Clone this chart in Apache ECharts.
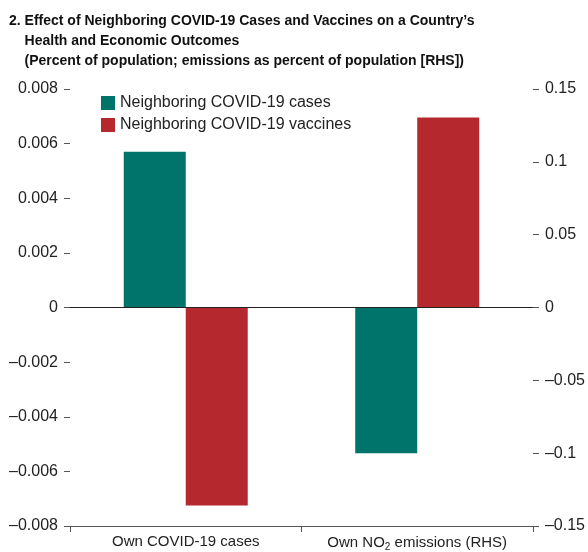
<!DOCTYPE html>
<html>
<head>
<meta charset="utf-8">
<script src="https://cdn.jsdelivr.net/npm/echarts@6/dist/echarts.min.js"></script>
<style>body{margin:0}#main{width:588px;height:552px}</style>
</head>
<body>
<div id="main"></div>
<script>
var categories = ['Own COVID-19 cases', 'Own NO2 emissions (RHS)'];
// first category on left axis, second on right axis (RHS)
var casesValues = [0.0057, -0.100];
var vaccinesValues = [-0.00725, 0.1305];
var leftTicks = [-0.008, 0.008, 0.002];
var rightTicks = [-0.15, 0.15, 0.05];

var scale = leftTicks[1] / rightTicks[1];
function toLeft(arr) { return [arr[0], arr[1] * scale]; }
function fmt(v) {
    var s = String(Math.abs(+v.toFixed(4)));
    return (v < -1e-9 ? '\u2013' : '') + s;
}
var font = '"Liberation Sans Narrow", "Arial Narrow", "Liberation Sans", sans-serif';

var chart = echarts.init(document.getElementById('main'));
chart.setOption({
    animation: false,
    title: {
        text: '2. Effect of Neighboring COVID-19 Cases and Vaccines on a Country\u2019s\n    Health and Economic Outcomes\n    (Percent of population; emissions as percent of population [RHS])',
        left: 4, top: 6,
        textStyle: {fontFamily: font, fontSize: 14, fontWeight: 'bold', lineHeight: 20, color: '#111'}
    },
    legend: {
        orient: 'vertical', left: 96, top: 90, itemGap: 6,
        itemWidth: 14, itemHeight: 14, icon: 'rect',
        textStyle: {fontFamily: font, fontSize: 16, color: '#222'},
        data: ['Neighboring COVID-19 cases', 'Neighboring COVID-19 vaccines']
    },
    grid: {left: 70, right: 48, top: 89, bottom: 24},
    xAxis: {
        type: 'category', data: categories,
        axisLine: {onZero: false, lineStyle: {color: '#555'}},
        axisTick: {show: true, interval: 0, length: 6, lineStyle: {color: '#555'}},
        axisLabel: {
            interval: 0,
            fontFamily: font, fontSize: 15, color: '#222', margin: 8,
            formatter: function (v) { return v.indexOf('NO2') >= 0 ? 'Own NO{s|2} emissions (RHS)' : v; },
            rich: {s: {fontFamily: font, fontSize: 10, color: '#222', padding: [8, 0, 0, 0]}}
        }
    },
    yAxis: [{
        type: 'value', min: leftTicks[0], max: leftTicks[1], interval: leftTicks[2],
        axisLine: {show: false}, splitLine: {show: false},
        axisTick: {show: true, length: 6, inside: false, lineStyle: {color: '#555'}},
        axisLabel: {fontFamily: font, fontSize: 16, color: '#222', margin: 12, formatter: fmt}
    }, {
        type: 'value', min: rightTicks[0], max: rightTicks[1], interval: rightTicks[2],
        axisLine: {show: false}, splitLine: {show: false},
        axisTick: {show: true, length: 6, lineStyle: {color: '#555'}},
        axisLabel: {fontFamily: font, fontSize: 16, color: '#222', margin: 12, formatter: fmt}
    }],
    series: [{
        name: 'Neighboring COVID-19 cases', type: 'bar', barWidth: 62, barGap: '0%',
        itemStyle: {color: '#00736A'}, data: toLeft(casesValues),
        markLine: {silent: true, symbol: 'none', label: {show: false},
            lineStyle: {color: '#222', width: 1, type: 'solid'}, data: [{yAxis: 0}]}
    }, {
        name: 'Neighboring COVID-19 vaccines', type: 'bar', barWidth: 62, barGap: '0%',
        itemStyle: {color: '#B5282E'}, data: toLeft(vaccinesValues)
    }]
});
</script>
</body>
</html>
